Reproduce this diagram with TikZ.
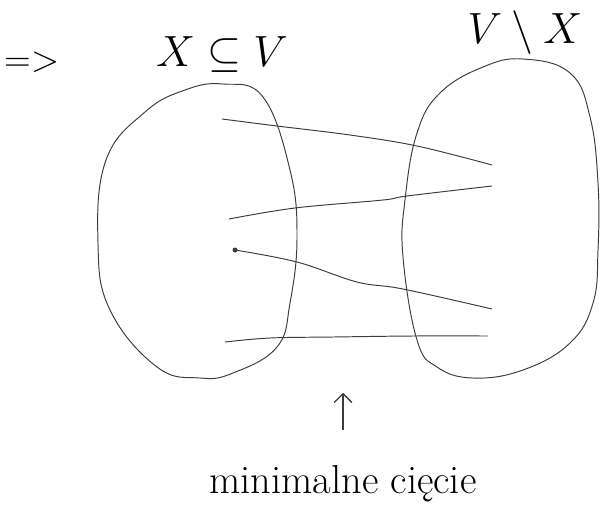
\documentclass[tikz,border=0pt]{standalone}
\usepackage{amsmath}
\usepackage{tikz}
\usetikzlibrary{arrows.meta}
\definecolor{cInk}{RGB}{60,60,60}
\tikzset{ink/.style={draw=cInk,line width=0.55pt},
  edgeline/.style={ink,smooth,tension=0.6}}

\begin{document}
\begin{tikzpicture}[x=0.02cm,y=-0.02cm]
\useasboundingbox (0,0) rectangle (601,504);
\node[font=\fontsize{21}{23}\selectfont] (impl) at (32,62) {=>};
\node[font=\fontsize{23}{25}\selectfont] (setX) at (222,55) {$X \subseteq V$};
\node[font=\fontsize{26}{28}\selectfont] (setVX) at (525,33) {$V \setminus X$};
\draw[ink] plot[smooth cycle,tension=0.7] coordinates {(223,84) (263,97) (290,170) (297,237) (290,303) (277,347) (233,373) (200,378) (157,367) (110,310) (98,243) (106,160) (145,112) (185,90)};
\draw[ink] plot[smooth cycle,tension=0.7] coordinates {(523,59) (570,73) (590,117) (598,183) (598,250) (593,303) (570,343) (523,370) (473,378) (437,367) (417,340) (403,257) (405,200) (417,133) (440,93) (483,67)};
\draw[edgeline] plot coordinates {(222,119) (277,126) (350,135) (417,146) (492,165)};
\draw[edgeline] plot coordinates {(229,219) (295,208) (383,200) (407,196) (492,186)};
\draw[edgeline] plot coordinates {(235,250) (297,262) (357,282) (403,289) (492,309)};
\draw[edgeline] plot coordinates {(225,342) (270,338) (333,337) (413,336) (488,336)};
\fill[cInk] (235,250) circle (2.5);
\node[font=\fontsize{23}{25}\selectfont] (cut) at (343,484) {minimalne cięcie};
\draw[ink,line width=0.8pt,-{Straight Barb[length=5pt,width=10pt]}] ([yshift=17pt]cut.north) -- ([yshift=38pt]cut.north);
\end{tikzpicture}
\end{document}
